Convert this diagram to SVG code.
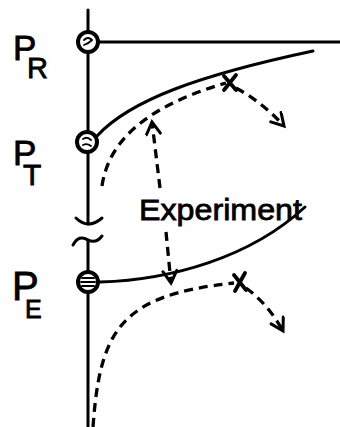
<svg xmlns="http://www.w3.org/2000/svg" width="340" height="427" viewBox="0 0 340 427">
<style>
.lbl{font-family:"Liberation Sans",Arial,sans-serif;fill:#000;stroke:#000;stroke-width:0.8}
.ln{fill:none;stroke:#000;stroke-width:3;stroke-linecap:round}
.ds{fill:none;stroke:#000;stroke-width:3.3;stroke-dasharray:9 6}
.node{fill:#fff;stroke:#000;stroke-width:4}
.mark{fill:none;stroke:#000;stroke-width:1.8;stroke-linecap:round}
.x{fill:none;stroke:#000;stroke-width:3.8;stroke-linecap:round}
</style>
<defs>
<marker id="v" markerUnits="userSpaceOnUse" markerWidth="20" markerHeight="20" refX="14" refY="8" orient="auto">
<path d="M2,1 L14,8 L2,15" fill="none" stroke="#000" stroke-width="3" stroke-linecap="round"/>
</marker>
</defs>
<rect width="340" height="427" fill="#fff"/>
<g id="connectors">
<path class="ln" d="M88,10 L88,224"/>
<path class="ln" d="M76,218 Q88,230 102,218"/>
<path class="ln" d="M73,245 Q79,234 88,240 Q96,244 102,236"/>
<path class="ln" d="M88,240 L88,427"/>
<path class="ln" d="M99,42 L340,42"/>
<path class="ln" d="M97,136 C130,100 200,75 313,51"/>
<path class="ds" d="M102,186 C108,145 140,108 226,83"/>
<path class="ds" d="M236,88 Q262,102 284,126" marker-end="url(#v)"/>
<path class="ds" d="M160,188 L152,122" marker-end="url(#v)"/>
<path class="ds" d="M166,232 L171,283" marker-end="url(#v)"/>
<path class="ln" d="M100,282 C170,280 250,258 305,207"/>
<path class="ds" d="M93,427 C100,330 120,295 234,283"/>
<path class="ds" d="M246,288 Q268,304 283,331" marker-end="url(#v)"/>
</g>
<g id="mark-T">
<path class="x" d="M224,76 L236,90 M236,75 L224,90"/>
</g>
<g id="mark-E">
<path class="x" d="M234,275 L246,290 M245,273 L235,291"/>
</g>
<g id="PR">
<circle class="node" cx="88" cy="42" r="10"/>
<path class="mark" d="M84,40 Q88,36 92,40 Q88,44 84,45"/>
<text class="lbl" x="13" y="60" font-size="35">P</text>
<text class="lbl" x="27" y="78" font-size="29">R</text>
</g>
<g id="PT">
<circle class="node" cx="87" cy="142" r="10"/>
<path class="mark" d="M83,139 Q87,136 91,140 M83,145 Q87,143 91,146"/>
<text class="lbl" x="13" y="165" font-size="35">P</text>
<text class="lbl" x="23" y="185" font-size="30">T</text>
</g>
<g id="PE">
<circle class="node" cx="88" cy="282" r="10"/>
<path class="mark" d="M82,278 L94,278 M81,282 L95,282 M82,286 L94,286"/>
<text class="lbl" x="12" y="300" font-size="40">P</text>
<text class="lbl" x="25" y="318" font-size="25">E</text>
</g>
<g id="experiment">
<text class="lbl" x="139" y="220" font-size="30" textLength="163" lengthAdjust="spacingAndGlyphs" stroke-width="0.6">Experiment</text>
</g>
</svg>
